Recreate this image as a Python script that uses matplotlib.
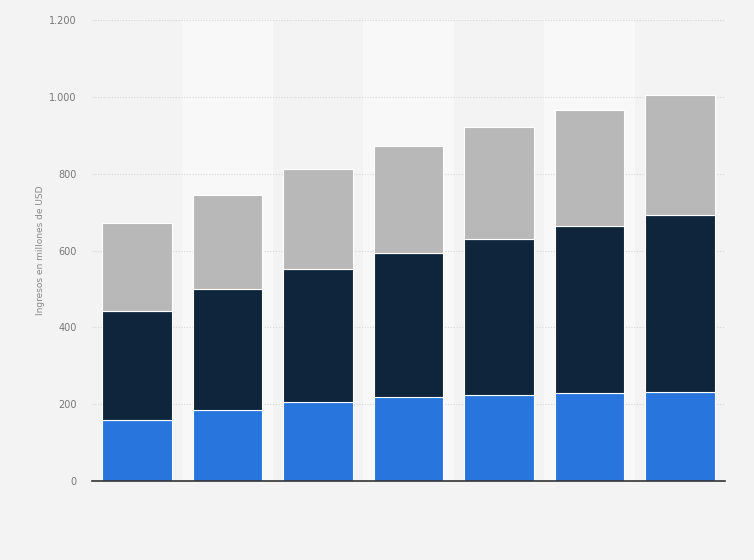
import numpy as np
import matplotlib
matplotlib.use("Agg")
import matplotlib.pyplot as plt

# values (millions USD), stacked bottom to top
categories = ["1", "2", "3", "4", "5", "6", "7"]
blue_vals = [160, 186, 205, 218, 225, 230, 233]
dark_vals = [284, 315, 346, 377, 406, 433, 459]
gray_vals = [229, 245, 261, 278, 291, 303, 314]
y_ticks = [0, 200, 400, 600, 800, 1000, 1200]
y_tick_labels = ["0", "200", "400", "600", "800", "1.000", "1.200"]

fig = plt.figure(figsize=(7.54, 5.6), dpi=100)
fig.patch.set_facecolor("#f3f3f3")
ax = fig.add_axes([0.122, 0.141, 0.8395, 0.823])
ax.set_facecolor("#f3f3f3")

x = np.arange(len(categories))

# alternating column bands
for i in x:
    if i % 2 == 1:
        ax.axvspan(i - 0.5, i + 0.5, color="#f8f8f8", zorder=0, lw=0)

ax.set_axisbelow(True)
ax.yaxis.grid(True, linestyle=(0, (1, 1.5)), color="#d6d6d6", linewidth=0.8)

w = 0.77
blue = np.array(blue_vals)
dark = np.array(dark_vals)
gray = np.array(gray_vals)
ax.bar(x, blue, width=w, color="#2876dd", edgecolor="white", linewidth=0.8, zorder=2)
ax.bar(x, dark, width=w, bottom=blue, color="#0f253c", edgecolor="white", linewidth=0.8, zorder=2)
ax.bar(x, gray, width=w, bottom=blue + dark, color="#b8b8b8", edgecolor="white", linewidth=0.8, zorder=2)

ax.set_xlim(-0.5, len(categories) - 0.5)
ax.set_ylim(0, 1200)
ax.set_yticks(y_ticks)
ax.set_yticklabels(y_tick_labels)
ax.set_xticks([])
ax.tick_params(axis="y", length=0, pad=11, labelsize=7, labelcolor="#777777")

for s in ["top", "right", "left"]:
    ax.spines[s].set_visible(False)
ax.spines["bottom"].set_color("#333333")
ax.spines["bottom"].set_linewidth(1.2)
ax.spines["bottom"].set_zorder(3)

ax.set_ylabel("Ingresos en millones de USD", fontsize=6.5, color="#888888", labelpad=3)

fig.savefig("out.png", dpi=100, facecolor=fig.get_facecolor())
